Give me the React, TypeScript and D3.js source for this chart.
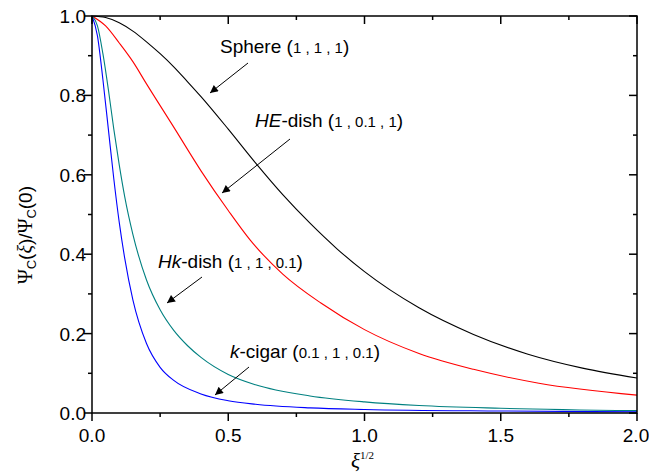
import React from "react";
import * as d3 from "d3";

const sphereX = [0, 0.05, 0.1, 0.15, 0.2, 0.25, 0.3, 0.35, 0.4, 0.5, 0.6, 0.7, 0.8, 0.9, 1.0, 1.2, 1.4, 1.6, 1.8, 2.0];
const sphereY = [1.0, 0.996, 0.983, 0.962, 0.935, 0.905, 0.872, 0.835, 0.797, 0.715, 0.63, 0.55, 0.478, 0.413, 0.356, 0.265, 0.198, 0.148, 0.113, 0.088];

const heX = [0, 0.05, 0.1, 0.15, 0.2, 0.3, 0.4, 0.5, 0.58, 0.7, 0.84, 1.0, 1.2, 1.4, 1.64, 2.0];
const heY = [1.0, 0.975, 0.932, 0.885, 0.829, 0.72, 0.61, 0.51, 0.436, 0.35, 0.277, 0.21, 0.15, 0.11, 0.075, 0.045];

const hkX = [0, 0.02, 0.04, 0.06, 0.08, 0.1, 0.12, 0.15, 0.2, 0.25, 0.3, 0.35, 0.4, 0.5, 0.6, 0.8, 1.0, 1.2, 1.5, 2.0];
const hkY = [1.0, 0.975, 0.905, 0.815, 0.715, 0.625, 0.545, 0.45, 0.335, 0.26, 0.208, 0.17, 0.14, 0.097, 0.071, 0.043, 0.028, 0.019, 0.012, 0.006];

const kcX = [0, 0.02, 0.04, 0.06, 0.08, 0.1, 0.12, 0.15, 0.2, 0.25, 0.3, 0.4, 0.5, 0.6, 0.8, 1.0, 1.5, 2.0];
const kcY = [1.0, 0.95, 0.84, 0.715, 0.59, 0.48, 0.39, 0.285, 0.175, 0.115, 0.082, 0.048, 0.031, 0.022, 0.013, 0.009, 0.005, 0.003];

const xMajor = [0, 0.5, 1.0, 1.5, 2.0];
const xMinor = [0.25, 0.75, 1.25, 1.75];
const yMajor = [0, 0.2, 0.4, 0.6, 0.8, 1.0];
const yMinor = [0.1, 0.3, 0.5, 0.7, 0.9];

const series = [
  { name: "sphere", xs: sphereX, ys: sphereY, color: "#000000" },
  { name: "he", xs: heX, ys: heY, color: "#ff0000" },
  { name: "hk", xs: hkX, ys: hkY, color: "#008080" },
  { name: "kc", xs: kcX, ys: kcY, color: "#0000ff" },
];

const SANS = "'Liberation Sans', Arial, sans-serif";
const SERIF = "'Liberation Serif', 'Times New Roman', serif";

export default function App() {
  const W = 649, H = 473;
  const L = 92, R = 637, T = 16, B = 413;
  const x = d3.scaleLinear().domain([0, 2]).range([L, R]);
  const y = d3.scaleLinear().domain([0, 1]).range([B, T]);
  const line = d3.line<[number, number]>().x(d => x(d[0])).y(d => y(d[1])).curve(d3.curveMonotoneX);

  const arrows = [
    { x1: 248, y1: 63, x2: 210, y2: 93 },
    { x1: 290, y1: 139, x2: 222, y2: 193 },
    { x1: 202, y1: 277, x2: 167, y2: 303 },
    { x1: 249, y1: 367, x2: 215, y2: 395 },
  ];

  const num = 15;
  const big = 19;
  const tickFont = 19;

  return (
    <svg width={W} height={H} style={{ position: "absolute", left: 0, top: 0, background: "#fff" }}>
      <defs>
        <marker id="ah" viewBox="0 0 10 10" refX="10" refY="5" markerWidth="10" markerHeight="8" markerUnits="userSpaceOnUse" orient="auto">
          <path d="M0,0 L10,5 L0,10 Z" fill="#000" />
        </marker>
      </defs>
      <clipPath id="clip"><rect x={L} y={T - 2} width={R - L} height={B - T + 2} /></clipPath>
      <g clipPath="url(#clip)">
        {series.map(s => (
          <path key={s.name} d={line(s.xs.map((v, i) => [v, s.ys[i]] as [number, number])) || ""} fill="none" stroke={s.color} strokeWidth={1.1} />
        ))}
      </g>
      <rect x={L} y={T} width={R - L} height={B - T} fill="none" stroke="#000" strokeWidth={1.5} />
      {xMajor.map(v => (
        <g key={"xM" + v}>
          <line x1={x(v)} x2={x(v)} y1={B} y2={B + 8} stroke="#000" strokeWidth={1.5} />
          <line x1={x(v)} x2={x(v)} y1={T} y2={T + 8} stroke="#000" strokeWidth={1.5} />
          <text x={v === 2 ? x(v) - 1 : x(v)} y={442} textAnchor="middle" fontFamily={SANS} fontSize={tickFont}>{v.toFixed(1)}</text>
        </g>
      ))}
      {xMinor.map(v => (
        <g key={"xm" + v}>
          <line x1={x(v)} x2={x(v)} y1={B} y2={B + 4} stroke="#000" strokeWidth={1.5} />
          <line x1={x(v)} x2={x(v)} y1={T} y2={T + 4} stroke="#000" strokeWidth={1.5} />
        </g>
      ))}
      {yMajor.map(v => (
        <g key={"yM" + v}>
          <line x1={L - 8} x2={L} y1={y(v)} y2={y(v)} stroke="#000" strokeWidth={1.5} />
          <line x1={R - 8} x2={R} y1={y(v)} y2={y(v)} stroke="#000" strokeWidth={1.5} />
          <text x={86} y={y(v) + 7} textAnchor="end" fontFamily={SANS} fontSize={tickFont}>{v.toFixed(1)}</text>
        </g>
      ))}
      {yMinor.map(v => (
        <g key={"ym" + v}>
          <line x1={L - 4} x2={L} y1={y(v)} y2={y(v)} stroke="#000" strokeWidth={1.5} />
          <line x1={R - 4} x2={R} y1={y(v)} y2={y(v)} stroke="#000" strokeWidth={1.5} />
        </g>
      ))}
      <text x={351} y={468}>
        <tspan fontFamily={SERIF} fontStyle="italic" fontSize={21}>ξ</tspan>
        <tspan fontFamily={SERIF} fontSize={11} dy={-9}>1/2</tspan>
      </text>
      <text transform="translate(32,235) rotate(-90)" textAnchor="middle" fontFamily={SANS} fontSize={19}>
        <tspan fontFamily={SERIF} fontSize={20}>Ψ</tspan>
        <tspan fontSize={13} dy={4}>C</tspan>
        <tspan dy={-4}>(</tspan>
        <tspan fontFamily={SERIF} fontStyle="italic" fontSize={20}>ξ</tspan>
        <tspan>)/</tspan>
        <tspan fontFamily={SERIF} fontSize={20}>Ψ</tspan>
        <tspan fontSize={13} dy={4}>C</tspan>
        <tspan dy={-4}>(0)</tspan>
      </text>
      <text x={220} y={53} fontFamily={SANS} fontSize={big}>
        <tspan>Sphere (</tspan><tspan fontSize={num}>1 , 1 , 1</tspan><tspan>)</tspan>
      </text>
      <text x={255} y={127} fontFamily={SANS} fontSize={big}>
        <tspan fontStyle="italic">HE</tspan><tspan>-dish (</tspan><tspan fontSize={num}>1 , 0.1 , 1</tspan><tspan>)</tspan>
      </text>
      <text x={158} y={268} fontFamily={SANS} fontSize={big}>
        <tspan fontStyle="italic">Hk</tspan><tspan>-dish (</tspan><tspan fontSize={num}>1 , 1 , 0.1</tspan><tspan>)</tspan>
      </text>
      <text x={230} y={358} fontFamily={SANS} fontSize={big}>
        <tspan fontStyle="italic">k</tspan><tspan>-cigar (</tspan><tspan fontSize={num}>0.1 , 1 , 0.1</tspan><tspan>)</tspan>
      </text>
      {arrows.map((a, i) => (
        <line key={"a" + i} x1={a.x1} y1={a.y1} x2={a.x2} y2={a.y2} stroke="#000" strokeWidth={1} markerEnd="url(#ah)" />
      ))}
    </svg>
  );
}
